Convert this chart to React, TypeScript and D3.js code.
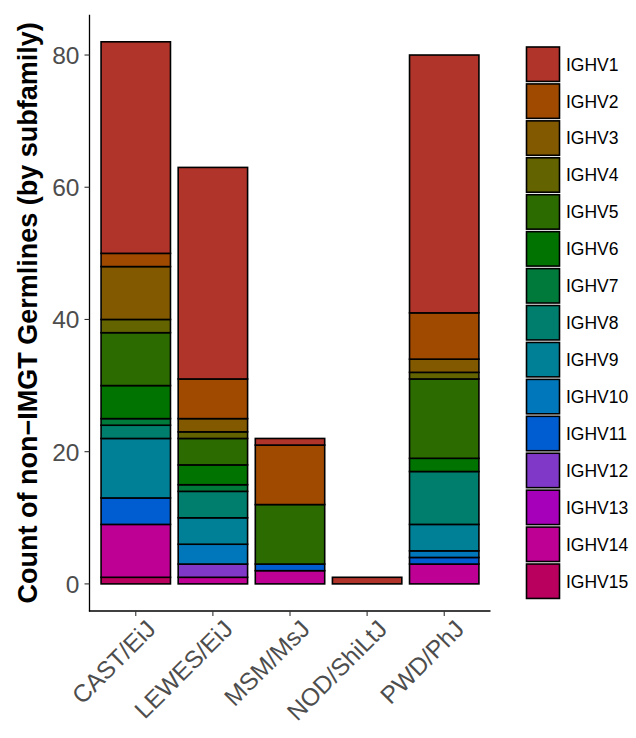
import React from "react";
import * as d3 from "d3";

const strains = ["CAST/EiJ", "LEWES/EiJ", "MSM/MsJ", "NOD/ShiLtJ", "PWD/PhJ"];
const subfamilies = [
  "IGHV1", "IGHV2", "IGHV3", "IGHV4", "IGHV5", "IGHV6", "IGHV7", "IGHV8",
  "IGHV9", "IGHV10", "IGHV11", "IGHV12", "IGHV13", "IGHV14", "IGHV15",
];
// counts per subfamily (IGHV1..IGHV15) for each strain
const castEiJ = [32, 2, 8, 2, 8, 5, 1, 2, 9, 0, 4, 0, 0, 8, 1];
const lewesEiJ = [32, 6, 2, 1, 4, 3, 1, 4, 4, 3, 0, 2, 0, 1, 0];
const msmMsJ = [1, 9, 0, 0, 9, 0, 0, 0, 0, 0, 1, 0, 0, 2, 0];
const nodShiLtJ = [1, 0, 0, 0, 0, 0, 0, 0, 0, 0, 0, 0, 0, 0, 0];
const pwdPhJ = [39, 7, 2, 1, 12, 2, 0, 8, 4, 1, 1, 0, 0, 3, 0];
const strainCounts = [castEiJ, lewesEiJ, msmMsJ, nodShiLtJ, pwdPhJ];

const fillColors = [
  "#B0342A", "#A04A00", "#835900", "#636300", "#2B6B00", "#007300", "#007A3B",
  "#007E6D", "#008097", "#0077BA", "#005DD1", "#8038C9", "#A700BA", "#BF0094", "#BA005F",
];
const yTicks = [0, 20, 40, 60, 80];

const W = 636;
const H = 738;
const panel = { left: 89.5, right: 490.5, top: 14.7, bottom: 611 };

export default function App() {
  const table = strains.map((s, i) => {
    const row: any = { strain: s };
    subfamilies.forEach((k, j) => (row[k] = strainCounts[i][j]));
    return row;
  });
  const stacked = d3.stack().keys(subfamilies.slice().reverse())(table);
  const maxTotal = d3.max(strainCounts, (a) => d3.sum(a)) as number;

  const x = d3
    .scaleBand()
    .domain(strains)
    .range([panel.left, panel.right])
    .paddingInner(0.1)
    .paddingOuter(0.15);
  const pad = maxTotal * 0.05;
  const y = d3
    .scaleLinear()
    .domain([-pad, maxTotal + pad])
    .range([panel.bottom, panel.top]);
  const color = d3.scaleOrdinal<string, string>().domain(subfamilies).range(fillColors);

  const font = "'Liberation Sans', Arial, Helvetica, sans-serif";
  const rowH = 36.93;
  const legTop = 46;

  return (
    <svg width={W} height={H} style={{ position: "absolute", left: 0, top: 0 }} fontFamily={font}>
      <rect x={0} y={0} width={W} height={H} fill="#fff" />
      {stacked.map((layer) => (
        <g key={layer.key} fill={color(layer.key)}>
          {layer.map((d, i) =>
            d[1] - d[0] > 0 ? (
              <rect
                key={i}
                x={x(strains[i])}
                width={x.bandwidth()}
                y={y(d[1])}
                height={y(d[0]) - y(d[1])}
                stroke="#000"
                strokeWidth={1.6}
              />
            ) : null
          )}
        </g>
      ))}
      {/* axes */}
      <line x1={panel.left} x2={panel.left} y1={panel.top} y2={panel.bottom + 0.6} stroke="#000" strokeWidth={1.3} />
      <line x1={panel.left - 0.6} x2={panel.right} y1={panel.bottom} y2={panel.bottom} stroke="#000" strokeWidth={1.3} />
      {yTicks.map((t) => (
        <g key={t} transform={`translate(0,${y(t)})`}>
          <line x1={panel.left - 5} x2={panel.left} stroke="#333" strokeWidth={1.1} />
          <text x={panel.left - 10} dy="0.36em" textAnchor="end" fontSize={24.5} fill="#4D4D4D">
            {t}
          </text>
        </g>
      ))}
      {strains.map((s) => {
        const cx = (x(s) as number) + x.bandwidth() / 2;
        return (
          <g key={s}>
            <line x1={cx} x2={cx} y1={panel.bottom} y2={panel.bottom + 5} stroke="#333" strokeWidth={1.1} />
            <text
              transform={`translate(${cx + 9},${panel.bottom + 7}) rotate(-45)`}
              textAnchor="end"
              dy="0.72em"
              fontSize={24.5}
              fill="#4D4D4D"
            >
              {s}
            </text>
          </g>
        );
      })}
      <text
        transform={`translate(37,${(panel.top + panel.bottom) / 2}) rotate(-90)`}
        textAnchor="middle"
        fontSize={27}
        fontWeight="bold"
        fill="#000"
      >
        Count of non−IMGT Germlines (by subfamily)
      </text>
      {/* legend */}
      {subfamilies.map((k, i) => (
        <g key={k} transform={`translate(0,${legTop + i * rowH})`}>
          <rect x={526.5} y={1} width={33} height={rowH - 2.5} fill={color(k)} stroke="#000" strokeWidth={1.6} />
          <text x={566} y={rowH / 2} dy="0.35em" fontSize={17.5} fill="#000">
            {k}
          </text>
        </g>
      ))}
    </svg>
  );
}
